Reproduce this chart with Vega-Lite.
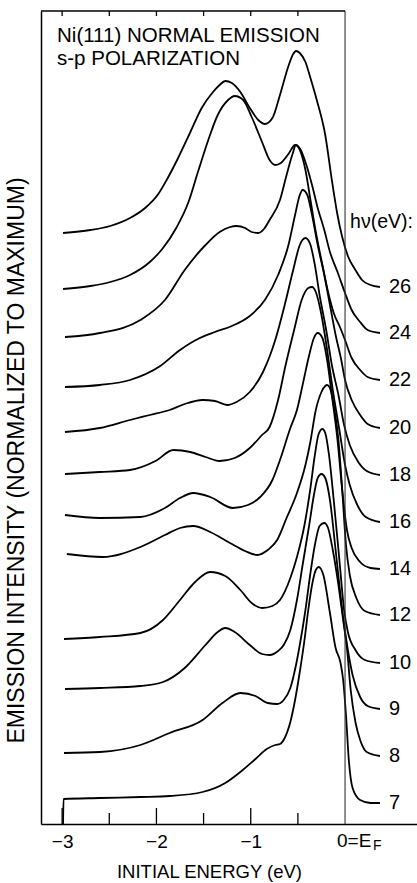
{
"$schema": "https://vega.github.io/schema/vega-lite/v6.json",
"width": 376, "height": 813,
"autosize": "none",
"padding": {"left": 41, "top": 11, "right": 0, "bottom": 59},
"background": "white",
"config": {"view": {"stroke": null}, "font": "Liberation Sans"},
"datasets": {
"curves": [
{"h":26,"E":-2.99,"I":591},{"h":26,"E":-2.70,"I":594},{"h":26,"E":-2.49,"I":598},{"h":26,"E":-2.28,"I":606},{"h":26,"E":-2.12,"I":616},{"h":26,"E":-1.98,"I":630},{"h":26,"E":-1.88,"I":646},{"h":26,"E":-1.77,"I":666},{"h":26,"E":-1.64,"I":692},{"h":26,"E":-1.52,"I":716},{"h":26,"E":-1.40,"I":732},{"h":26,"E":-1.33,"I":739},{"h":26,"E":-1.27,"I":743},{"h":26,"E":-1.20,"I":741},{"h":26,"E":-1.11,"I":732},{"h":26,"E":-1.01,"I":716},{"h":26,"E":-0.92,"I":704},{"h":26,"E":-0.85,"I":700},{"h":26,"E":-0.77,"I":706},{"h":26,"E":-0.69,"I":729},{"h":26,"E":-0.60,"I":758},{"h":26,"E":-0.55,"I":770},{"h":26,"E":-0.52,"I":773},{"h":26,"E":-0.48,"I":771},{"h":26,"E":-0.42,"I":762},{"h":26,"E":-0.37,"I":747},{"h":26,"E":-0.30,"I":724},{"h":26,"E":-0.21,"I":689},{"h":26,"E":-0.14,"I":644},{"h":26,"E":-0.08,"I":609},{"h":26,"E":-0.03,"I":587},{"h":26,"E":0.03,"I":568},{"h":26,"E":0.11,"I":554},{"h":26,"E":0.18,"I":544},{"h":26,"E":0.27,"I":539},{"h":26,"E":0.37,"I":537},
{"h":24,"E":-2.99,"I":535},{"h":24,"E":-2.70,"I":538},{"h":24,"E":-2.49,"I":542},{"h":24,"E":-2.28,"I":549},{"h":24,"E":-2.07,"I":562},{"h":24,"E":-1.93,"I":576},{"h":24,"E":-1.79,"I":596},{"h":24,"E":-1.66,"I":622},{"h":24,"E":-1.56,"I":652},{"h":24,"E":-1.45,"I":684},{"h":24,"E":-1.35,"I":709},{"h":24,"E":-1.24,"I":724},{"h":24,"E":-1.17,"I":728},{"h":24,"E":-1.08,"I":724},{"h":24,"E":-0.99,"I":707},{"h":24,"E":-0.88,"I":682},{"h":24,"E":-0.80,"I":664},{"h":24,"E":-0.74,"I":659},{"h":24,"E":-0.68,"I":661},{"h":24,"E":-0.60,"I":670},{"h":24,"E":-0.53,"I":679},{"h":24,"E":-0.47,"I":674},{"h":24,"E":-0.41,"I":659},{"h":24,"E":-0.35,"I":639},{"h":24,"E":-0.29,"I":616},{"h":24,"E":-0.22,"I":594},{"h":24,"E":-0.16,"I":572},{"h":24,"E":-0.08,"I":552},{"h":24,"E":0.00,"I":531},{"h":24,"E":0.07,"I":514},{"h":24,"E":0.16,"I":502},{"h":24,"E":0.24,"I":494},{"h":24,"E":0.37,"I":491},
{"h":22,"E":-2.97,"I":487},{"h":22,"E":-2.60,"I":491},{"h":22,"E":-2.17,"I":504},{"h":22,"E":-1.91,"I":524},{"h":22,"E":-1.70,"I":554},{"h":22,"E":-1.48,"I":579},{"h":22,"E":-1.33,"I":592},{"h":22,"E":-1.22,"I":597},{"h":22,"E":-1.15,"I":598},{"h":22,"E":-1.06,"I":596},{"h":22,"E":-0.99,"I":592},{"h":22,"E":-0.92,"I":591},{"h":22,"E":-0.86,"I":595},{"h":22,"E":-0.80,"I":604},{"h":22,"E":-0.69,"I":624},{"h":22,"E":-0.62,"I":649},{"h":22,"E":-0.56,"I":669},{"h":22,"E":-0.52,"I":679},{"h":22,"E":-0.48,"I":674},{"h":22,"E":-0.42,"I":654},{"h":22,"E":-0.37,"I":626},{"h":22,"E":-0.31,"I":592},{"h":22,"E":-0.24,"I":559},{"h":22,"E":-0.18,"I":532},{"h":22,"E":-0.12,"I":511},{"h":22,"E":-0.05,"I":496},{"h":22,"E":0.00,"I":484},{"h":22,"E":0.07,"I":466},{"h":22,"E":0.16,"I":454},{"h":22,"E":0.24,"I":447},{"h":22,"E":0.37,"I":444},
{"h":20,"E":-2.97,"I":437},{"h":20,"E":-2.60,"I":439},{"h":20,"E":-2.28,"I":444},{"h":20,"E":-1.96,"I":458},{"h":20,"E":-1.75,"I":474},{"h":20,"E":-1.54,"I":486},{"h":20,"E":-1.38,"I":492},{"h":20,"E":-1.20,"I":498},{"h":20,"E":-1.01,"I":508},{"h":20,"E":-0.85,"I":524},{"h":20,"E":-0.71,"I":549},{"h":20,"E":-0.60,"I":579},{"h":20,"E":-0.53,"I":609},{"h":20,"E":-0.48,"I":629},{"h":20,"E":-0.45,"I":634},{"h":20,"E":-0.40,"I":629},{"h":20,"E":-0.35,"I":609},{"h":20,"E":-0.29,"I":579},{"h":20,"E":-0.22,"I":549},{"h":20,"E":-0.16,"I":519},{"h":20,"E":-0.10,"I":489},{"h":20,"E":-0.04,"I":464},{"h":20,"E":0.00,"I":444},{"h":20,"E":0.07,"I":424},{"h":20,"E":0.16,"I":409},{"h":20,"E":0.24,"I":400},{"h":20,"E":0.37,"I":396},
{"h":18,"E":-2.97,"I":392},{"h":18,"E":-2.60,"I":396},{"h":18,"E":-2.28,"I":404},{"h":18,"E":-2.07,"I":409},{"h":18,"E":-1.86,"I":414},{"h":18,"E":-1.70,"I":420},{"h":18,"E":-1.51,"I":424},{"h":18,"E":-1.38,"I":423},{"h":18,"E":-1.25,"I":419},{"h":18,"E":-1.15,"I":422},{"h":18,"E":-1.01,"I":432},{"h":18,"E":-0.87,"I":452},{"h":18,"E":-0.74,"I":484},{"h":18,"E":-0.64,"I":519},{"h":18,"E":-0.55,"I":554},{"h":18,"E":-0.48,"I":579},{"h":18,"E":-0.42,"I":586},{"h":18,"E":-0.37,"I":580},{"h":18,"E":-0.32,"I":559},{"h":18,"E":-0.27,"I":529},{"h":18,"E":-0.20,"I":494},{"h":18,"E":-0.14,"I":459},{"h":18,"E":-0.07,"I":429},{"h":18,"E":-0.01,"I":399},{"h":18,"E":0.05,"I":379},{"h":18,"E":0.14,"I":362},{"h":18,"E":0.23,"I":353},{"h":18,"E":0.37,"I":349},
{"h":16,"E":-2.97,"I":350},{"h":16,"E":-2.60,"I":352},{"h":16,"E":-2.28,"I":354},{"h":16,"E":-2.01,"I":363},{"h":16,"E":-1.82,"I":374},{"h":16,"E":-1.64,"I":372},{"h":16,"E":-1.48,"I":367},{"h":16,"E":-1.33,"I":363},{"h":16,"E":-1.17,"I":366},{"h":16,"E":-1.01,"I":376},{"h":16,"E":-0.88,"I":389},{"h":16,"E":-0.80,"I":397},{"h":16,"E":-0.71,"I":424},{"h":16,"E":-0.63,"I":459},{"h":16,"E":-0.54,"I":494},{"h":16,"E":-0.46,"I":524},{"h":16,"E":-0.39,"I":536},{"h":16,"E":-0.35,"I":537},{"h":16,"E":-0.31,"I":532},{"h":16,"E":-0.25,"I":509},{"h":16,"E":-0.19,"I":474},{"h":16,"E":-0.13,"I":434},{"h":16,"E":-0.06,"I":394},{"h":16,"E":0.00,"I":359},{"h":16,"E":0.05,"I":339},{"h":16,"E":0.13,"I":319},{"h":16,"E":0.22,"I":307},{"h":16,"E":0.37,"I":302},
{"h":14,"E":-2.97,"I":309},{"h":14,"E":-2.60,"I":306},{"h":14,"E":-2.17,"I":307},{"h":14,"E":-1.91,"I":316},{"h":14,"E":-1.75,"I":326},{"h":14,"E":-1.61,"I":331},{"h":14,"E":-1.43,"I":327},{"h":14,"E":-1.19,"I":316},{"h":14,"E":-1.03,"I":319},{"h":14,"E":-0.90,"I":327},{"h":14,"E":-0.77,"I":344},{"h":14,"E":-0.69,"I":364},{"h":14,"E":-0.58,"I":396},{"h":14,"E":-0.51,"I":414},{"h":14,"E":-0.45,"I":439},{"h":14,"E":-0.38,"I":469},{"h":14,"E":-0.33,"I":486},{"h":14,"E":-0.29,"I":491},{"h":14,"E":-0.24,"I":486},{"h":14,"E":-0.19,"I":464},{"h":14,"E":-0.14,"I":429},{"h":14,"E":-0.08,"I":384},{"h":14,"E":-0.03,"I":334},{"h":14,"E":0.02,"I":294},{"h":14,"E":0.07,"I":276},{"h":14,"E":0.16,"I":262},{"h":14,"E":0.27,"I":256},{"h":14,"E":0.37,"I":255},
{"h":12,"E":-2.95,"I":270},{"h":12,"E":-2.57,"I":267},{"h":12,"E":-2.17,"I":277},{"h":12,"E":-1.91,"I":289},{"h":12,"E":-1.75,"I":296},{"h":12,"E":-1.61,"I":298},{"h":12,"E":-1.43,"I":292},{"h":12,"E":-1.22,"I":281},{"h":12,"E":-1.06,"I":273},{"h":12,"E":-0.93,"I":269},{"h":12,"E":-0.82,"I":274},{"h":12,"E":-0.72,"I":284},{"h":12,"E":-0.62,"I":306},{"h":12,"E":-0.51,"I":331},{"h":12,"E":-0.42,"I":359},{"h":12,"E":-0.37,"I":381},{"h":12,"E":-0.31,"I":414},{"h":12,"E":-0.25,"I":432},{"h":12,"E":-0.21,"I":438},{"h":12,"E":-0.19,"I":439},{"h":12,"E":-0.16,"I":436},{"h":12,"E":-0.12,"I":419},{"h":12,"E":-0.07,"I":384},{"h":12,"E":-0.03,"I":334},{"h":12,"E":0.01,"I":279},{"h":12,"E":0.05,"I":249},{"h":12,"E":0.12,"I":226},{"h":12,"E":0.21,"I":213},{"h":12,"E":0.37,"I":209},
{"h":10,"E":-2.98,"I":185},{"h":10,"E":-2.60,"I":187},{"h":10,"E":-2.17,"I":191},{"h":10,"E":-1.93,"I":204},{"h":10,"E":-1.75,"I":224},{"h":10,"E":-1.59,"I":242},{"h":10,"E":-1.43,"I":252},{"h":10,"E":-1.27,"I":248},{"h":10,"E":-1.11,"I":234},{"h":10,"E":-0.99,"I":221},{"h":10,"E":-0.88,"I":216},{"h":10,"E":-0.77,"I":218},{"h":10,"E":-0.69,"I":224},{"h":10,"E":-0.58,"I":246},{"h":10,"E":-0.51,"I":267},{"h":10,"E":-0.43,"I":299},{"h":10,"E":-0.37,"I":334},{"h":10,"E":-0.32,"I":369},{"h":10,"E":-0.28,"I":390},{"h":10,"E":-0.24,"I":395},{"h":10,"E":-0.21,"I":391},{"h":10,"E":-0.17,"I":369},{"h":10,"E":-0.12,"I":324},{"h":10,"E":-0.06,"I":264},{"h":10,"E":-0.01,"I":214},{"h":10,"E":0.03,"I":192},{"h":10,"E":0.11,"I":174},{"h":10,"E":0.21,"I":164},{"h":10,"E":0.37,"I":161},
{"h":9,"E":-2.97,"I":135},{"h":9,"E":-2.60,"I":136},{"h":9,"E":-2.17,"I":138},{"h":9,"E":-1.93,"I":142},{"h":9,"E":-1.70,"I":156},{"h":9,"E":-1.48,"I":179},{"h":9,"E":-1.35,"I":192},{"h":9,"E":-1.27,"I":196},{"h":9,"E":-1.17,"I":192},{"h":9,"E":-1.01,"I":179},{"h":9,"E":-0.88,"I":170},{"h":9,"E":-0.80,"I":169},{"h":9,"E":-0.71,"I":173},{"h":9,"E":-0.65,"I":179},{"h":9,"E":-0.58,"I":194},{"h":9,"E":-0.51,"I":224},{"h":9,"E":-0.45,"I":259},{"h":9,"E":-0.38,"I":299},{"h":9,"E":-0.33,"I":329},{"h":9,"E":-0.29,"I":346},{"h":9,"E":-0.25,"I":350},{"h":9,"E":-0.21,"I":346},{"h":9,"E":-0.16,"I":324},{"h":9,"E":-0.10,"I":274},{"h":9,"E":-0.03,"I":214},{"h":9,"E":0.03,"I":174},{"h":9,"E":0.08,"I":149},{"h":9,"E":0.16,"I":127},{"h":9,"E":0.24,"I":118},{"h":9,"E":0.37,"I":115},
{"h":8,"E":-2.98,"I":71},{"h":8,"E":-2.60,"I":72},{"h":8,"E":-2.17,"I":79},{"h":8,"E":-1.86,"I":91},{"h":8,"E":-1.51,"I":104},{"h":8,"E":-1.30,"I":121},{"h":8,"E":-1.11,"I":131},{"h":8,"E":-0.95,"I":128},{"h":8,"E":-0.82,"I":121},{"h":8,"E":-0.72,"I":120},{"h":8,"E":-0.65,"I":124},{"h":8,"E":-0.58,"I":136},{"h":8,"E":-0.52,"I":159},{"h":8,"E":-0.48,"I":179},{"h":8,"E":-0.42,"I":214},{"h":8,"E":-0.37,"I":249},{"h":8,"E":-0.32,"I":279},{"h":8,"E":-0.27,"I":298},{"h":8,"E":-0.22,"I":301},{"h":8,"E":-0.18,"I":296},{"h":8,"E":-0.13,"I":274},{"h":8,"E":-0.07,"I":239},{"h":8,"E":-0.02,"I":204},{"h":8,"E":0.02,"I":176},{"h":8,"E":0.06,"I":134},{"h":8,"E":0.11,"I":102},{"h":8,"E":0.16,"I":84},{"h":8,"E":0.23,"I":72},{"h":8,"E":0.37,"I":68},
{"h":7,"E":-2.99,"I":0},{"h":7,"E":-2.985,"I":25},{"h":7,"E":-2.60,"I":26},{"h":7,"E":-2.17,"I":27},{"h":7,"E":-1.86,"I":28},{"h":7,"E":-1.51,"I":32},{"h":7,"E":-1.27,"I":41},{"h":7,"E":-1.11,"I":52},{"h":7,"E":-0.95,"I":65},{"h":7,"E":-0.83,"I":75},{"h":7,"E":-0.74,"I":79},{"h":7,"E":-0.69,"I":80},{"h":7,"E":-0.64,"I":86},{"h":7,"E":-0.58,"I":102},{"h":7,"E":-0.53,"I":124},{"h":7,"E":-0.48,"I":152},{"h":7,"E":-0.43,"I":184},{"h":7,"E":-0.39,"I":214},{"h":7,"E":-0.35,"I":239},{"h":7,"E":-0.31,"I":254},{"h":7,"E":-0.28,"I":257},{"h":7,"E":-0.23,"I":249},{"h":7,"E":-0.16,"I":211},{"h":7,"E":-0.10,"I":176},{"h":7,"E":-0.05,"I":162},{"h":7,"E":-0.02,"I":144},{"h":7,"E":0.01,"I":109},{"h":7,"E":0.04,"I":64},{"h":7,"E":0.08,"I":36},{"h":7,"E":0.16,"I":24},{"h":7,"E":0.27,"I":21},{"h":7,"E":0.37,"I":21}
],
"majorTicks": [{"E":-3},{"E":-2},{"E":-1}],
"minorTicks": [{"E":-2.5},{"E":-1.5},{"E":-0.5}],
"topTicks": [{"E":-3},{"E":-2.5},{"E":-2},{"E":-1.5},{"E":-1},{"E":-0.5}],
"one": [{}]
},
"layer": [
{"data": {"name": "curves"},
 "mark": {"type": "line", "interpolate": "monotone", "color": "black", "strokeWidth": 1.8},
 "encoding": {
  "x": {"field": "E", "type": "quantitative",
        "scale": {"domain": [-3.224, 0.763], "nice": false, "zero": false},
        "axis": {"title": "INITIAL ENERGY (eV)", "values": [-3, -2, -1], "format": "d", "ticks": false, "tickSize": 0, "grid": false,
                 "domain": true, "domainColor": "black", "domainWidth": 1.5,
                 "labelFontSize": 19, "labelColor": "black", "labelPadding": 8,
                 "titleFontSize": 18.5, "titleFontWeight": "normal", "titleColor": "black",
                 "titleX": 168, "titleY": 38, "titleBaseline": "top"}},
  "y": {"field": "I", "type": "quantitative",
        "scale": {"domain": [0, 813], "nice": false},
        "axis": {"title": "EMISSION INTENSITY (NORMALIZED TO MAXIMUM)", "labels": false, "ticks": false, "grid": false,
                 "domain": true, "domainColor": "black", "domainWidth": 1.5,
                 "titleFontSize": 23, "titleFontWeight": "normal", "titleColor": "black",
                 "titlePadding": 13, "titleY": 449}},
  "detail": {"field": "h", "type": "nominal"}
 }},
{"data": {"name": "curves"},
 "transform": [{"joinaggregate": [{"op": "max", "field": "E", "as": "Emax"}], "groupby": ["h"]},
               {"filter": "datum.E === datum.Emax"}],
 "mark": {"type": "text", "align": "left", "baseline": "middle", "dx": 9, "fontSize": 20, "color": "black"},
 "encoding": {
  "x": {"field": "E", "type": "quantitative"},
  "y": {"field": "I", "type": "quantitative"},
  "text": {"field": "h", "type": "nominal"}
 }},
{"data": {"name": "one"},
 "mark": {"type": "rule", "color": "#333333", "strokeWidth": 1.1},
 "encoding": {"x": {"datum": 0}, "y": {"datum": 0}, "y2": {"datum": 813}}},
{"data": {"name": "one"},
 "mark": {"type": "rule", "color": "black", "strokeWidth": 1.5},
 "encoding": {"x": {"datum": -3.224}, "x2": {"datum": 0}, "y": {"datum": 813}}},
{"data": {"name": "majorTicks"},
 "mark": {"type": "rule", "color": "black", "strokeWidth": 1.3},
 "encoding": {"x": {"field": "E", "type": "quantitative"}, "y": {"datum": 0}, "y2": {"datum": 16}}},
{"data": {"name": "minorTicks"},
 "mark": {"type": "rule", "color": "black", "strokeWidth": 1.3},
 "encoding": {"x": {"field": "E", "type": "quantitative"}, "y": {"datum": 0}, "y2": {"datum": 11}}},
{"data": {"name": "topTicks"},
 "mark": {"type": "rule", "color": "black", "strokeWidth": 1.3},
 "encoding": {"x": {"field": "E", "type": "quantitative"}, "y": {"datum": 813}, "y2": {"datum": 808}}},
{"data": {"name": "one"},
 "mark": {"type": "text", "align": "left", "baseline": "alphabetic", "fontSize": 20.5, "color": "black"},
 "encoding": {"x": {"datum": -3.054}, "y": {"datum": 782}, "text": {"value": "Ni(111) NORMAL EMISSION"}}},
{"data": {"name": "one"},
 "mark": {"type": "text", "align": "left", "baseline": "alphabetic", "fontSize": 20.5, "color": "black"},
 "encoding": {"x": {"datum": -3.054}, "y": {"datum": 759}, "text": {"value": "s-p POLARIZATION"}}},
{"data": {"name": "one"},
 "mark": {"type": "text", "align": "left", "baseline": "middle", "fontSize": 19.5, "color": "black"},
 "encoding": {"x": {"datum": 0.053}, "y": {"datum": 602}, "text": {"value": "hν(eV):"}}},
{"data": {"name": "one"},
 "mark": {"type": "text", "align": "left", "baseline": "top", "fontSize": 19, "color": "black", "dx": -8, "dy": 8},
 "encoding": {"x": {"datum": 0}, "y": {"datum": 0}, "text": {"value": "0=E"}}},
{"data": {"name": "one"},
 "mark": {"type": "text", "align": "left", "baseline": "top", "fontSize": 14, "color": "black", "dx": 28, "dy": 15},
 "encoding": {"x": {"datum": 0}, "y": {"datum": 0}, "text": {"value": "F"}}}
]
}
